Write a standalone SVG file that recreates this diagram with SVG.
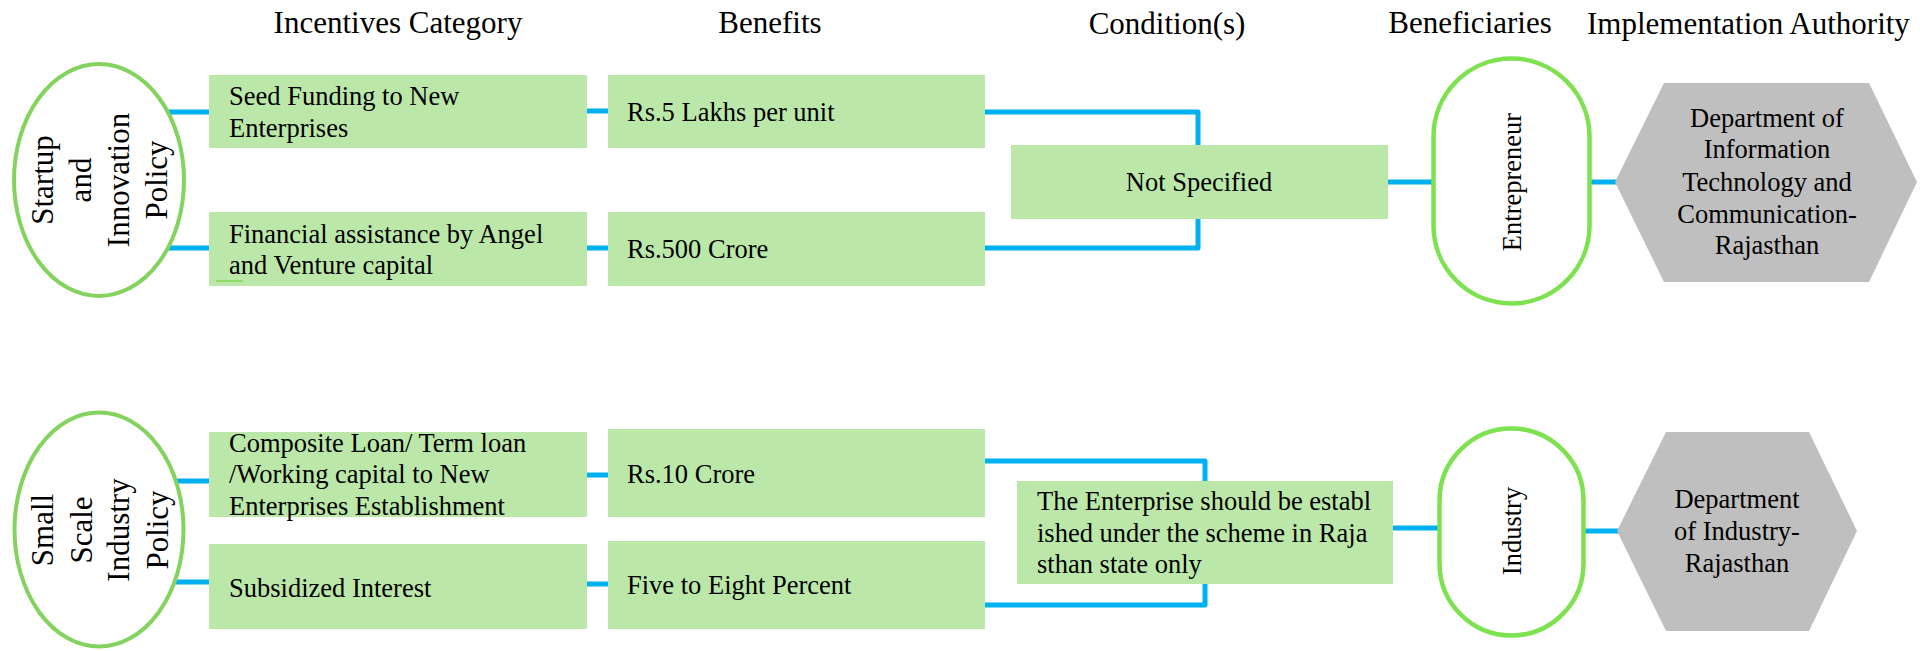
<svg xmlns="http://www.w3.org/2000/svg" width="1920" height="651" viewBox="0 0 1920 651">
<style>
text{font-family:"Liberation Serif","Times New Roman",serif;fill:#000}
.hdr{font-size:31px}
.t{font-size:26.5px}
.rt{font-size:31px;text-anchor:middle}
.vt{font-size:26.5px;text-anchor:middle}
.c{text-anchor:middle}
.box{fill:#bbe8a9}
.pol{fill:#fff;stroke:#84d35e;stroke-width:4}
.ben{fill:#fff;stroke:#7ee250;stroke-width:4.5}
.hex{fill:#bfbfbf}
.con{fill:none;stroke:#00b0f0;stroke-width:5;stroke-linejoin:round}
</style>
<rect width="1920" height="651" fill="#fff"/>
<g id="headers">
<text class="hdr c" x="398" y="33">Incentives Category</text>
<text class="hdr c" x="770" y="33">Benefits</text>
<text class="hdr c" x="1167" y="34">Condition(s)</text>
<text class="hdr c" x="1470" y="33">Beneficiaries</text>
<text class="hdr" x="1587" y="34">Implementation Authority</text>
</g>
<g id="connectors">
<path class="con" d="M160 112H212"/>
<path class="con" d="M160 248H212"/>
<path class="con" d="M585 111H610"/>
<path class="con" d="M585 248H610"/>
<path class="con" d="M983 112H1198V248H983"/>
<path class="con" d="M1386 182H1434"/>
<path class="con" d="M1588 182H1617"/>
<path class="con" d="M170 481H212"/>
<path class="con" d="M170 582H212"/>
<path class="con" d="M585 475H610"/>
<path class="con" d="M585 584H610"/>
<path class="con" d="M983 461H1205V605H983"/>
<path class="con" d="M1391 528H1440"/>
<path class="con" d="M1582 531H1619"/>
</g>
<g id="startup-policy">
<ellipse class="pol" cx="99" cy="180" rx="85" ry="116"/>
<text class="rt" transform="translate(53,180) rotate(-90)">Startup</text>
<text class="rt" transform="translate(91,180) rotate(-90)">and</text>
<text class="rt" transform="translate(129,180) rotate(-90)">Innovation</text>
<text class="rt" transform="translate(167,180) rotate(-90)">Policy</text>
</g>
<g id="seed-funding">
<rect class="box" x="209" y="75" width="378" height="73"/>
<text class="t" x="229" y="105">Seed Funding to New</text>
<text class="t" x="229" y="137">Enterprises</text>
</g>
<g id="financial-assistance">
<rect class="box" x="209" y="212" width="378" height="74"/>
<text class="t" x="229" y="243">Financial assistance by Angel</text>
<text class="t" x="229" y="274">and Venture capital</text>
<line x1="216" y1="281" x2="243" y2="281" stroke="#7ed957" stroke-width="1.5"/>
</g>
<g id="rs5-lakhs">
<rect class="box" x="608" y="75" width="377" height="73"/>
<text class="t" x="627" y="121">Rs.5 Lakhs per unit</text>
</g>
<g id="rs500-crore">
<rect class="box" x="608" y="212" width="377" height="74"/>
<text class="t" x="627" y="258">Rs.500 Crore</text>
</g>
<g id="not-specified">
<rect class="box" x="1011" y="145" width="377" height="74"/>
<text class="t c" x="1199" y="191">Not Specified</text>
</g>
<g id="entrepreneur">
<rect class="ben" x="1433.5" y="58.5" width="156" height="245" rx="78" ry="78"/>
<text class="vt" transform="translate(1521,182) rotate(-90)">Entrepreneur</text>
</g>
<g id="dept-it">
<polygon class="hex" points="1615,182 1664,83 1869,83 1917,182 1869,282 1664,282"/>
<text class="t c" x="1767" y="127">Department of</text>
<text class="t c" x="1767" y="158">Information</text>
<text class="t c" x="1767" y="191">Technology and</text>
<text class="t c" x="1767" y="223">Communication-</text>
<text class="t c" x="1767" y="254">Rajasthan</text>
</g>
<g id="small-scale-policy">
<ellipse class="pol" cx="99" cy="529.5" rx="84.5" ry="117"/>
<text class="rt" transform="translate(53,530) rotate(-90)">Small</text>
<text class="rt" transform="translate(92,530) rotate(-90)">Scale</text>
<text class="rt" transform="translate(129,530) rotate(-90)">Industry</text>
<text class="rt" transform="translate(168,530) rotate(-90)">Policy</text>
</g>
<g id="composite-loan">
<rect class="box" x="209" y="432" width="378" height="85"/>
<text class="t" x="229" y="452">Composite Loan/ Term loan</text>
<text class="t" x="229" y="483">/Working capital to New</text>
<text class="t" x="229" y="515">Enterprises Establishment</text>
</g>
<g id="subsidized-interest">
<rect class="box" x="209" y="544" width="378" height="85"/>
<text class="t" x="229" y="597">Subsidized Interest</text>
</g>
<g id="rs10-crore">
<rect class="box" x="608" y="429" width="377" height="88"/>
<text class="t" x="627" y="483">Rs.10 Crore</text>
</g>
<g id="five-to-eight">
<rect class="box" x="608" y="541" width="377" height="88"/>
<text class="t" x="627" y="594">Five to Eight Percent</text>
</g>
<g id="enterprise-condition">
<rect class="box" x="1017" y="481" width="376" height="103"/>
<text class="t" x="1037" y="510">The Enterprise should be establ</text>
<text class="t" x="1037" y="542">ished under the scheme in Raja</text>
<text class="t" x="1037" y="573">sthan state only</text>
</g>
<g id="industry">
<rect class="ben" x="1439.5" y="428.5" width="144" height="207" rx="72" ry="72"/>
<text class="vt" transform="translate(1521,531) rotate(-90)">Industry</text>
</g>
<g id="dept-industry">
<polygon class="hex" points="1617,531 1666,432 1809,432 1857,531 1809,631 1666,631"/>
<text class="t c" x="1737" y="508">Department</text>
<text class="t c" x="1737" y="540">of Industry-</text>
<text class="t c" x="1737" y="572">Rajasthan</text>
</g>
</svg>
